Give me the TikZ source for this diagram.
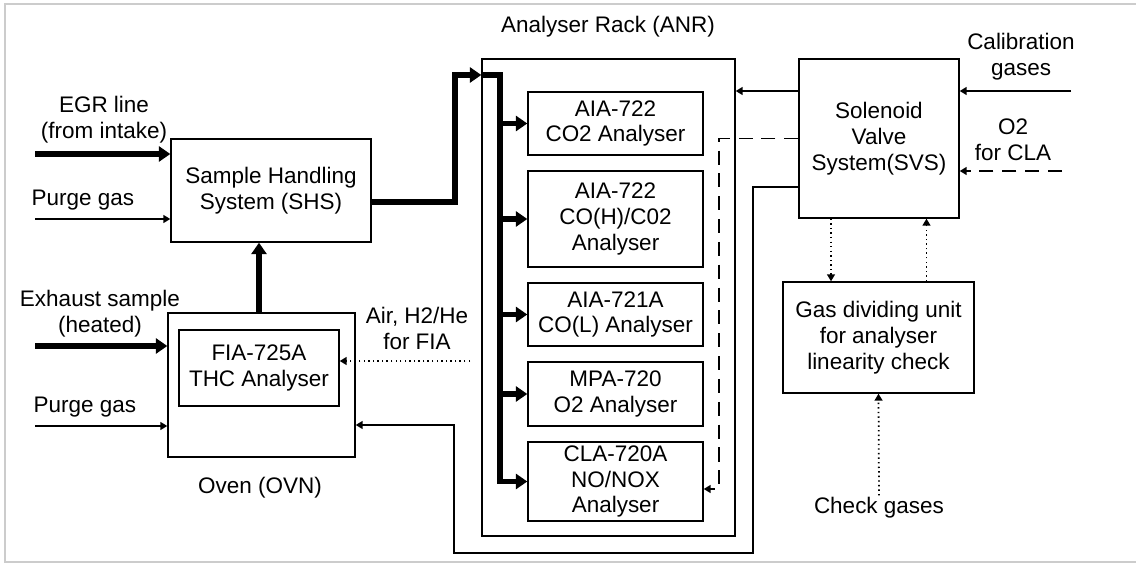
\documentclass[tikz,border=0pt]{standalone}
\usepackage{fontspec}
\setmainfont{Liberation Sans}
\usetikzlibrary{arrows.meta,positioning}
\tikzset{
  box/.style={draw,line width=0.8pt,align=center,inner sep=0pt},
  lbl/.style={align=center,inner sep=1pt},
  thk/.style={line width=3pt},
  thkar/.style={thk,-{Triangle[length=6.5pt,width=8.5pt]}},
  ln/.style={line width=1pt,-{Triangle[length=4pt,width=4.5pt]}},
  dsh/.style={ln,dash pattern=on 8pt off 5pt},
  dotl/.style={ln,dash pattern=on 0.8pt off 1.8pt},
}

\begin{document}
\begin{tikzpicture}[x=0.02cm,y=-0.02cm,every node/.style={font=\fontsize{12.8}{14.7}\selectfont}]
  \useasboundingbox (0,0) rectangle (1136,563);
  \draw[black!20,line width=1pt] (1136,4) -- (5,4) -- (5,562) -- (1136,562);
  % blocks
  \node[box,minimum width=4cm,minimum height=2.06cm] (shs) at (271,190.5) {Sample Handling\\System (SHS)};
  \node[box,minimum width=3.74cm,minimum height=2.88cm] (ovn) at (261.5,385) {};
  \node[box,minimum width=3.2cm,minimum height=1.52cm] (fia) at (259,368) {FIA-725A\\THC Analyser};
  \node[box,minimum width=5.06cm,minimum height=9.54cm] (rack) at (608.5,297.5) {};
  \node[box,minimum width=3.5cm,minimum height=1.26cm] (co2) at (615.5,123.5) {AIA-722\\CO2 Analyser};
  \node[box,minimum width=3.5cm,minimum height=1.92cm] (coh) at (615.5,219) {AIA-722\\CO(H)/C02\\Analyser};
  \node[box,minimum width=3.5cm,minimum height=1.26cm] (col) at (615.5,314.5) {AIA-721A\\CO(L) Analyser};
  \node[box,minimum width=3.5cm,minimum height=1.28cm] (o2) at (615.5,394) {MPA-720\\O2 Analyser};
  \node[box,minimum width=3.5cm,minimum height=1.58cm] (nox) at (615.5,481.5) {CLA-720A\\NO/NOX\\Analyser};
  \node[box,minimum width=3.2cm,minimum height=3.18cm] (svs) at (879,138.5) {Solenoid\\Valve\\System(SVS)};
  \node[box,minimum width=3.82cm,minimum height=2.22cm] (gdu) at (878.5,337.5) {Gas dividing unit\\for analyser\\linearity check};
  % labels
  \node[lbl] (egr) at (104,120) {EGR line\\(from intake)};
  \node[lbl] (prg1) at (83,200) {Purge gas};
  \node[lbl] (exh) at (100,313.5) {Exhaust sample\\(heated)};
  \node[lbl] (prg2) at (85,407) {Purge gas};
  \node[lbl] (ovnlbl) at (260,488) {Oven (OVN)};
  \node[lbl] (air) at (417,328.5) {Air, H2/He\\for FIA};
  \node[lbl] (anr) at (608,27) {Analyser Rack (ANR)};
  \node[lbl] (cal) at (1021,56.5) {Calibration\\gases};
  \node[lbl] (o2cla) at (1013,140) {O2\\for CLA};
  \node[lbl] (chk) at (879,508) {Check gases};
  % free ends and bends
  \coordinate (egrin) at (35,154);
  \coordinate (prgin1) at (35,219);
  \coordinate (exhin) at (35,346);
  \coordinate (prgin2) at (35,426);
  \coordinate (bend) at (455,75);
  \coordinate (bus) at (500,75);
  \coordinate (airin) at (470,361);
  \coordinate (calin) at (1071,91);
  \coordinate (o2in) at (1062,171);
  \coordinate (dsx) at (719,489);
  \coordinate (rb) at (753,553);
  \coordinate (lb) at (454,553);
  \coordinate (shsout) at ([yshift=-0.23cm]shs.east);
  \coordinate (ovin) at ([yshift=-0.8cm]ovn.east);
  \coordinate (sv1) at ([yshift=0.95cm]svs.west);
  \coordinate (sv3) at ([yshift=-0.97cm]svs.west);
  \coordinate (d1) at ([xshift=-0.96cm]svs.south);
  \coordinate (d2) at ([xshift=0.96cm]gdu.north);
  % sample lines
  \draw[thkar] (egrin) -- (egrin -| shs.west);
  \draw[ln] (prgin1) -- (prgin1 -| shs.west);
  \draw[thkar] (exhin) -- (exhin -| ovn.west);
  \draw[ln] (prgin2) -- (prgin2 -| ovn.west);
  \draw[thkar] (fia.north |- ovn.north) -- (fia.north |- shs.south);
  \draw[thkar] (shsout) -| (bend) -- (bend -| rack.west);
  \draw[thkar] (bend -| rack.west) -- (bus) -- (bus |- nox.west) -- (nox.west);
  \foreach \a in {co2,coh,col,o2}
    \draw[thkar] (bus |- \a.west) -- (\a.west);
  \draw[dotl] (airin) -- (airin -| fia.east);
  % gas supply
  \draw[ln] (sv1) -- (sv1 -| rack.east);
  \draw[ln] (calin) -- (calin -| svs.east);
  \draw[dsh] (o2in) -- (o2in -| svs.east);
  \draw[dsh] (svs.west) -| (dsx) -- (dsx -| nox.east);
  \draw[ln] (sv3) -| (rb) -- (lb) |- (ovin);
  \draw[dotl] (d1) -- (d1 |- gdu.north);
  \draw[dotl] (d2) -- (d2 |- svs.south);
  \draw[dotl] (chk.north) -- (gdu.south);
\end{tikzpicture}
\end{document}
